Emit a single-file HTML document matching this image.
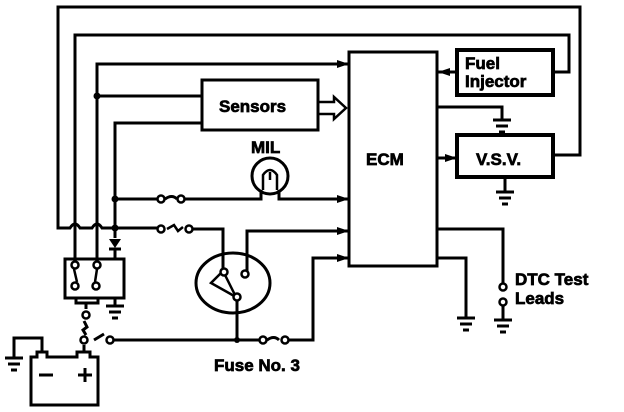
<!DOCTYPE html>
<html><head><style>
html,body{margin:0;padding:0;background:#fff;}
svg{display:block;}
text{font-family:"Liberation Sans",sans-serif;font-weight:bold;fill:#000;stroke:#000;stroke-width:0.7;}
</style></head><body>
<svg width="624" height="412" viewBox="0 0 624 412" xmlns="http://www.w3.org/2000/svg">
<defs>
<marker id="ar" markerWidth="12" markerHeight="10" refX="12" refY="5" orient="auto" markerUnits="userSpaceOnUse">
<path d="M0,1 L12,5 L0,9 Z" fill="#000"/>
</marker>
</defs>
<g fill="none" stroke="#000" stroke-width="3">
<rect x="349" y="52" width="88" height="214"/>
<rect x="457" y="50" width="96" height="45" stroke-width="4"/>
<rect x="457" y="135" width="96" height="42" stroke-width="4"/>
<rect x="202" y="80" width="116" height="50"/>
<path d="M555,155 H580 V7 H58 V228 H70 q5,-8 10,0 H92 q5,-8 10,0 H160"/>
<path d="M553,72 H569 V35 H75 V259"/>
<path d="M97,259 V64 H349" marker-end="url(#ar)"/>
<path d="M97,96 H202"/>
<path d="M115,238 V123 H202"/>
<path d="M318,102 H334 V97 L346,108 L334,119 V114 H318" stroke-width="2.5"/>
<path d="M115,199 H158"/>
<path d="M182,199 H261 V190 M279,190 V199 H349" marker-end="url(#ar)"/>
<path d="M190,229 H223 V270"/>
<path d="M247,272 V231 H349" marker-end="url(#ar)"/>
<path d="M457,72 H438" marker-end="url(#ar)"/>
<path d="M437,158 H457" marker-end="url(#ar)"/>
<path d="M437,107 H502 V120"/>
<path d="M505,177 V192"/>
<path d="M437,229 H503 V284"/>
<path d="M503,306 V320"/>
<path d="M437,258 H466 V318"/>
<rect x="65" y="259" width="59" height="39"/>
<path d="M76,298 V303 H98 V298"/>
<path d="M115,298 V306"/>
<path d="M86,303 V309"/>
<path d="M84,321 l3,6 l-4,3 l3,5"/>
<path d="M94,340 l10,-6"/>
<path d="M114,340 H237 V297"/>
<path d="M237,340 H262 M285,340 H313 V258 H349" marker-end="url(#ar)"/>
<path d="M165,199 q7,-5 12,0"/>
<path d="M167,229 l7,-4 l4,6 l5,-4" stroke-width="2.5"/>
<path d="M267,340 q7,-5 12,0"/>
<path d="M74,269 L77,282 M97,269 L95,282" stroke-width="2.5"/>
<ellipse cx="233" cy="283" rx="37" ry="30"/>
<path d="M223,271 L211,283 L236,297 Z" stroke-width="2.5" fill="none"/>
<circle cx="270" cy="176" r="18"/>
<path d="M263,190 V175 q7,-10 14,0 V190" stroke-width="2.5"/>
<path d="M270,172 V180" stroke-width="2.5"/>
<path d="M31,405 V357 H37 V352 H47 V357 H77 V352 H90 V357 H98 V405 Z"/>
<path d="M42,352 V338 H14 V358"/>
<path d="M84,352 V345"/>
<g stroke-width="3">
<path d="M5,358 H23 M8,364 H20 M11,370 H17"/>
<path d="M106,306 H124 M109,312 H121 M112,318 H118"/>
<path d="M493,120 H511 M496,126 H508 M499,132 H505"/>
<path d="M496,192 H514 M499,198 H511 M502,204 H508"/>
<path d="M457,318 H475 M460,324 H472 M463,330 H469"/>
<path d="M494,320 H512 M497,326 H509 M500,332 H506"/>
</g>
<path d="M39,375 H53" stroke-width="3"/>
<path d="M78,375 H92 M85,368 V382" stroke-width="3"/>
</g>
<path d="M109,239 H121 L115,248 Z" fill="#000"/>
<path d="M109,249 H121 M115,249 V259" stroke="#000" stroke-width="3"/>
<g fill="#fff" stroke="#000" stroke-width="2.5">
<circle cx="161" cy="199" r="3.5"/><circle cx="181" cy="199" r="3.5"/>
<circle cx="161" cy="229" r="3.5"/><circle cx="189" cy="229" r="3.5"/>
<circle cx="263" cy="340" r="3.5"/><circle cx="285" cy="340" r="3.5"/>
<circle cx="75" cy="265" r="3.5"/><circle cx="97" cy="265" r="3.5"/>
<circle cx="75" cy="286" r="3.5"/><circle cx="96" cy="286" r="3.5"/>
<circle cx="86" cy="315" r="3.5"/><circle cx="84" cy="340" r="3.5"/>
<circle cx="110" cy="340" r="3.5"/>
<circle cx="224" cy="272" r="3.5"/><circle cx="245" cy="274" r="3.5"/>
<circle cx="237" cy="297" r="3.5"/>
<circle cx="503" cy="287" r="3.5"/><circle cx="503" cy="302" r="3.5"/>
</g>
<g fill="#000">
<circle cx="97" cy="96" r="3.5"/><circle cx="115" cy="199" r="3.5"/>
<circle cx="115" cy="228" r="3.5"/><circle cx="237" cy="340" r="3"/>
</g>
<text x="219" y="112" font-size="17">Sensors</text>
<text x="251" y="153" font-size="17">MIL</text>
<text x="366" y="165" font-size="17">ECM</text>
<text x="465" y="69" font-size="17">Fuel</text>
<text x="465" y="87" font-size="17">Injector</text>
<text x="476" y="165" font-size="17">V.S.V.</text>
<text x="515" y="285" font-size="17">DTC Test</text>
<text x="515" y="304" font-size="17">Leads</text>
<text x="214" y="371" font-size="17">Fuse No. 3</text>
</svg>
</body></html>
